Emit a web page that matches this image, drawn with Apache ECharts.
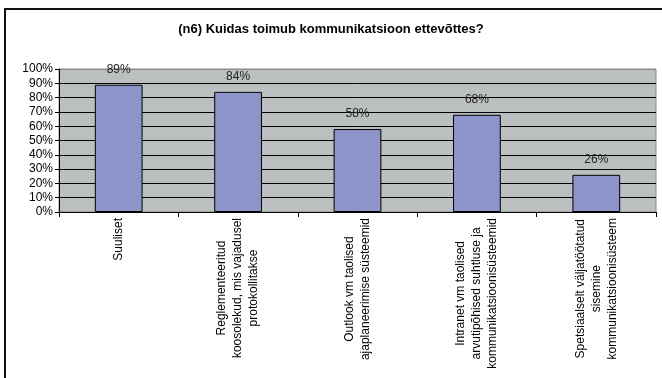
<!DOCTYPE html>
<html>
<head>
<meta charset="utf-8">
<script src="https://cdn.jsdelivr.net/npm/echarts@6/dist/echarts.min.js"></script>
<style>
html,body{margin:0;padding:0;background:#fff;}
#c{width:662px;height:378px;}
</style>
</head>
<body>
<div id="c"></div>
<script>
var titleText = '(n6) Kuidas toimub kommunikatsioon ettevõttes?';
var categories = [
  'Suuliset',
  'Reglementeeritud\nkoosolekud, mis vajadusel\nprotokollitakse',
  'Outlook vm taolised\najaplaneerimise süsteemid',
  'Intranet vm taolised\narvutipõhised suhtluse ja\nkommunikatsioonisüsteemid',
  'Spetsiaalselt väljatöötatud\nsisemine\nkommunikatsioonisüsteem'
];
var values = [89, 84, 58, 68, 26];
var yTicks = { min: 0, max: 100, interval: 10 };

var FONT = '"Liberation Sans", Arial, sans-serif';
var chart = echarts.init(document.getElementById('c'), null, { renderer: 'canvas' });

var gridColors = [];
for (var i = 0; i < 10; i++) gridColors.push('#000000');
gridColors.push('#8a8a8a');

chart.setOption({
  backgroundColor: '#ffffff',
  animation: false,
  title: {
    text: titleText,
    left: 'center',
    top: 18,
    textStyle: { fontFamily: FONT, fontSize: 13, fontWeight: 'bold', color: '#000' }
  },
  graphic: [{
    type: 'rect',
    shape: { x: 5, y: 9, width: 700, height: 420 },
    style: { fill: 'none', stroke: '#111', lineWidth: 2 },
    silent: true, z: 100
  }],
  grid: {
    left: 59, top: 69, right: 6, bottom: 166,
    show: true, backgroundColor: '#bcbfc0', borderColor: '#8a8a8a', borderWidth: 1
  },
  xAxis: {
    type: 'category',
    data: categories,
    axisLine: { lineStyle: { color: '#000', width: 1 } },
    axisTick: { show: true, length: 5, lineStyle: { color: '#000' } },
    axisLabel: {
      rotate: 90,
      margin: 6,
      interval: 0,
      fontFamily: FONT,
      fontSize: 12,
      color: '#000',
      lineHeight: 16,
      formatter: function (v) {
        return v.split('\n').map(function (l) { return '{c|' + l + '}'; }).join('\n');
      },
      rich: { c: { align: 'center', fontFamily: FONT, fontSize: 12, lineHeight: 16, color: '#000' } }
    }
  },
  yAxis: {
    type: 'value',
    min: yTicks.min, max: yTicks.max, interval: yTicks.interval,
    axisLine: { show: true, lineStyle: { color: '#000', width: 1 } },
    axisTick: { show: true, length: 4, lineStyle: { color: '#000' } },
    axisLabel: { formatter: '{value}%', fontFamily: FONT, fontSize: 12, color: '#000', margin: 6 },
    splitLine: { show: true, lineStyle: { color: gridColors, width: 1 } }
  },
  series: [{
    type: 'bar',
    data: values,
    barWidth: '40%',
    itemStyle: { color: '#8c94c9', borderColor: '#000', borderWidth: 1 },
    label: {
      show: true, position: 'top', distance: 9,
      formatter: '{c}%', fontFamily: FONT, fontSize: 12, color: '#222'
    }
  }]
});
</script>
</body>
</html>
